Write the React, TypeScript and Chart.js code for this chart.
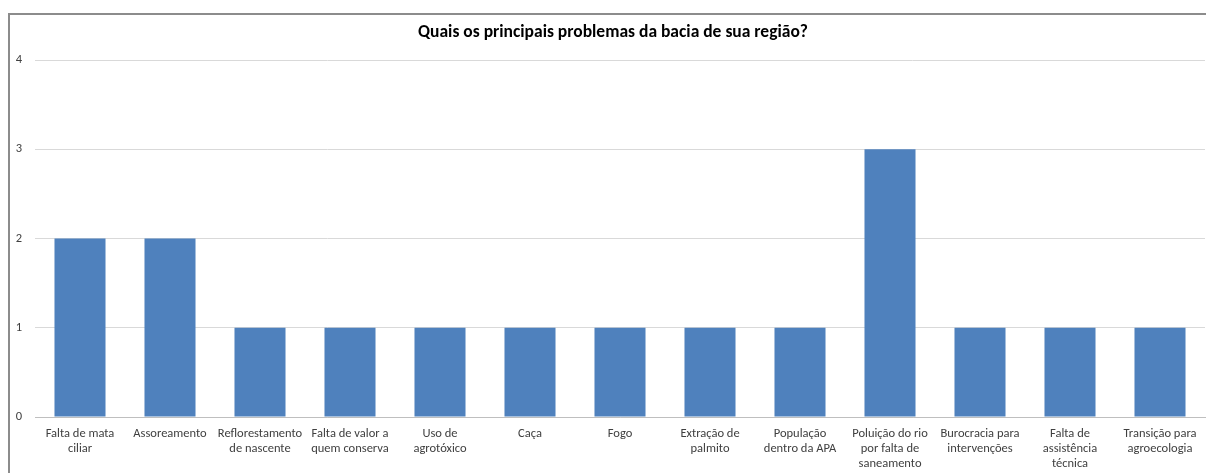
import React, { useEffect, useRef } from "react";
import { Chart, registerables } from "chart.js";

Chart.register(...registerables);

const titleText = "Quais os principais problemas da bacia de sua região?";

const categories: string[][] = [
  ["Falta de mata", "ciliar"],
  ["Assoreamento"],
  ["Reflorestamento", "de nascente"],
  ["Falta de valor a", "quem conserva"],
  ["Uso de", "agrotóxico"],
  ["Caça"],
  ["Fogo"],
  ["Extração de", "palmito"],
  ["População", "dentro da APA"],
  ["Poluição do rio", "por falta de", "saneamento"],
  ["Burocracia para", "intervenções"],
  ["Falta de", "assistência", "técnica"],
  ["Transição para", "agroecologia"],
];

const values: number[] = [2, 2, 1, 1, 1, 1, 1, 1, 1, 3, 1, 1, 1];

const yTicks: number[] = [0, 1, 2, 3, 4];

const FONT = "Carlito, Calibri, Lato, 'Liberation Sans', sans-serif";

const titleShift = {
  id: "titleShift",
  afterLayout(chart: any) {
    if (chart.titleBlock) {
      chart.titleBlock.left = 21;
    }
  },
};

export default function App() {
  const ref = useRef<HTMLCanvasElement | null>(null);

  useEffect(() => {
    if (!ref.current) return;
    const chart = new Chart(ref.current, {
      type: "bar",
      data: {
        labels: categories,
        datasets: [
          {
            data: values,
            backgroundColor: "#4F81BD",
            borderWidth: 0,
            barPercentage: 0.567,
            categoryPercentage: 1,
          },
        ],
      },
      plugins: [titleShift],
      options: {
        animation: false,
        responsive: false,
        devicePixelRatio: 1,
        layout: { padding: { left: 0, right: 21, top: 0, bottom: 0 } },
        plugins: {
          legend: { display: false },
          tooltip: { enabled: false },
          title: {
            display: true,
            text: titleText,
            color: "#000000",
            font: { family: FONT, size: 17.5, weight: "bold", lineHeight: 1.2 },
            padding: { top: 22, bottom: 17 },
          },
        },
        scales: {
          y: {
            min: yTicks[0],
            max: yTicks[yTicks.length - 1],
            afterBuildTicks: (s: any) => {
              s.ticks = yTicks.map((v) => ({ value: v }));
            },
            afterFit: (s: any) => {
              s.width = 35;
            },
            ticks: {
              stepSize: 1,
              padding: 13,
              color: "#404040",
              font: { family: FONT, size: 12.5 },
            },
            grid: { color: "#d9d9d9", drawTicks: false },
            border: { display: false },
          },
          x: {
            afterFit: (s: any) => {
              s.height = 63;
            },
            ticks: {
              autoSkip: false,
              maxRotation: 0,
              minRotation: 0,
              padding: 9,
              color: "#404040",
              font: { family: FONT, size: 12.5, lineHeight: 1.2 },
            },
            grid: { display: false, drawTicks: false },
            border: { display: true, color: "#bfbfbf" },
          },
        },
      },
    });
    return () => chart.destroy();
  }, []);

  return (
    <div
      style={{
        position: "absolute",
        left: 0,
        top: 0,
        width: 1206,
        height: 473,
        overflow: "hidden",
        background: "#ffffff",
      }}
    >
      <div
        style={{
          position: "absolute",
          left: 8,
          top: 13,
          width: 1400,
          height: 600,
          border: "2px solid #8c8c8c",
        }}
      />
      <canvas
        ref={ref}
        width={1226}
        height={480}
        style={{ position: "absolute", left: 0, top: 0, width: 1226, height: 480 }}
      />
    </div>
  );
}
